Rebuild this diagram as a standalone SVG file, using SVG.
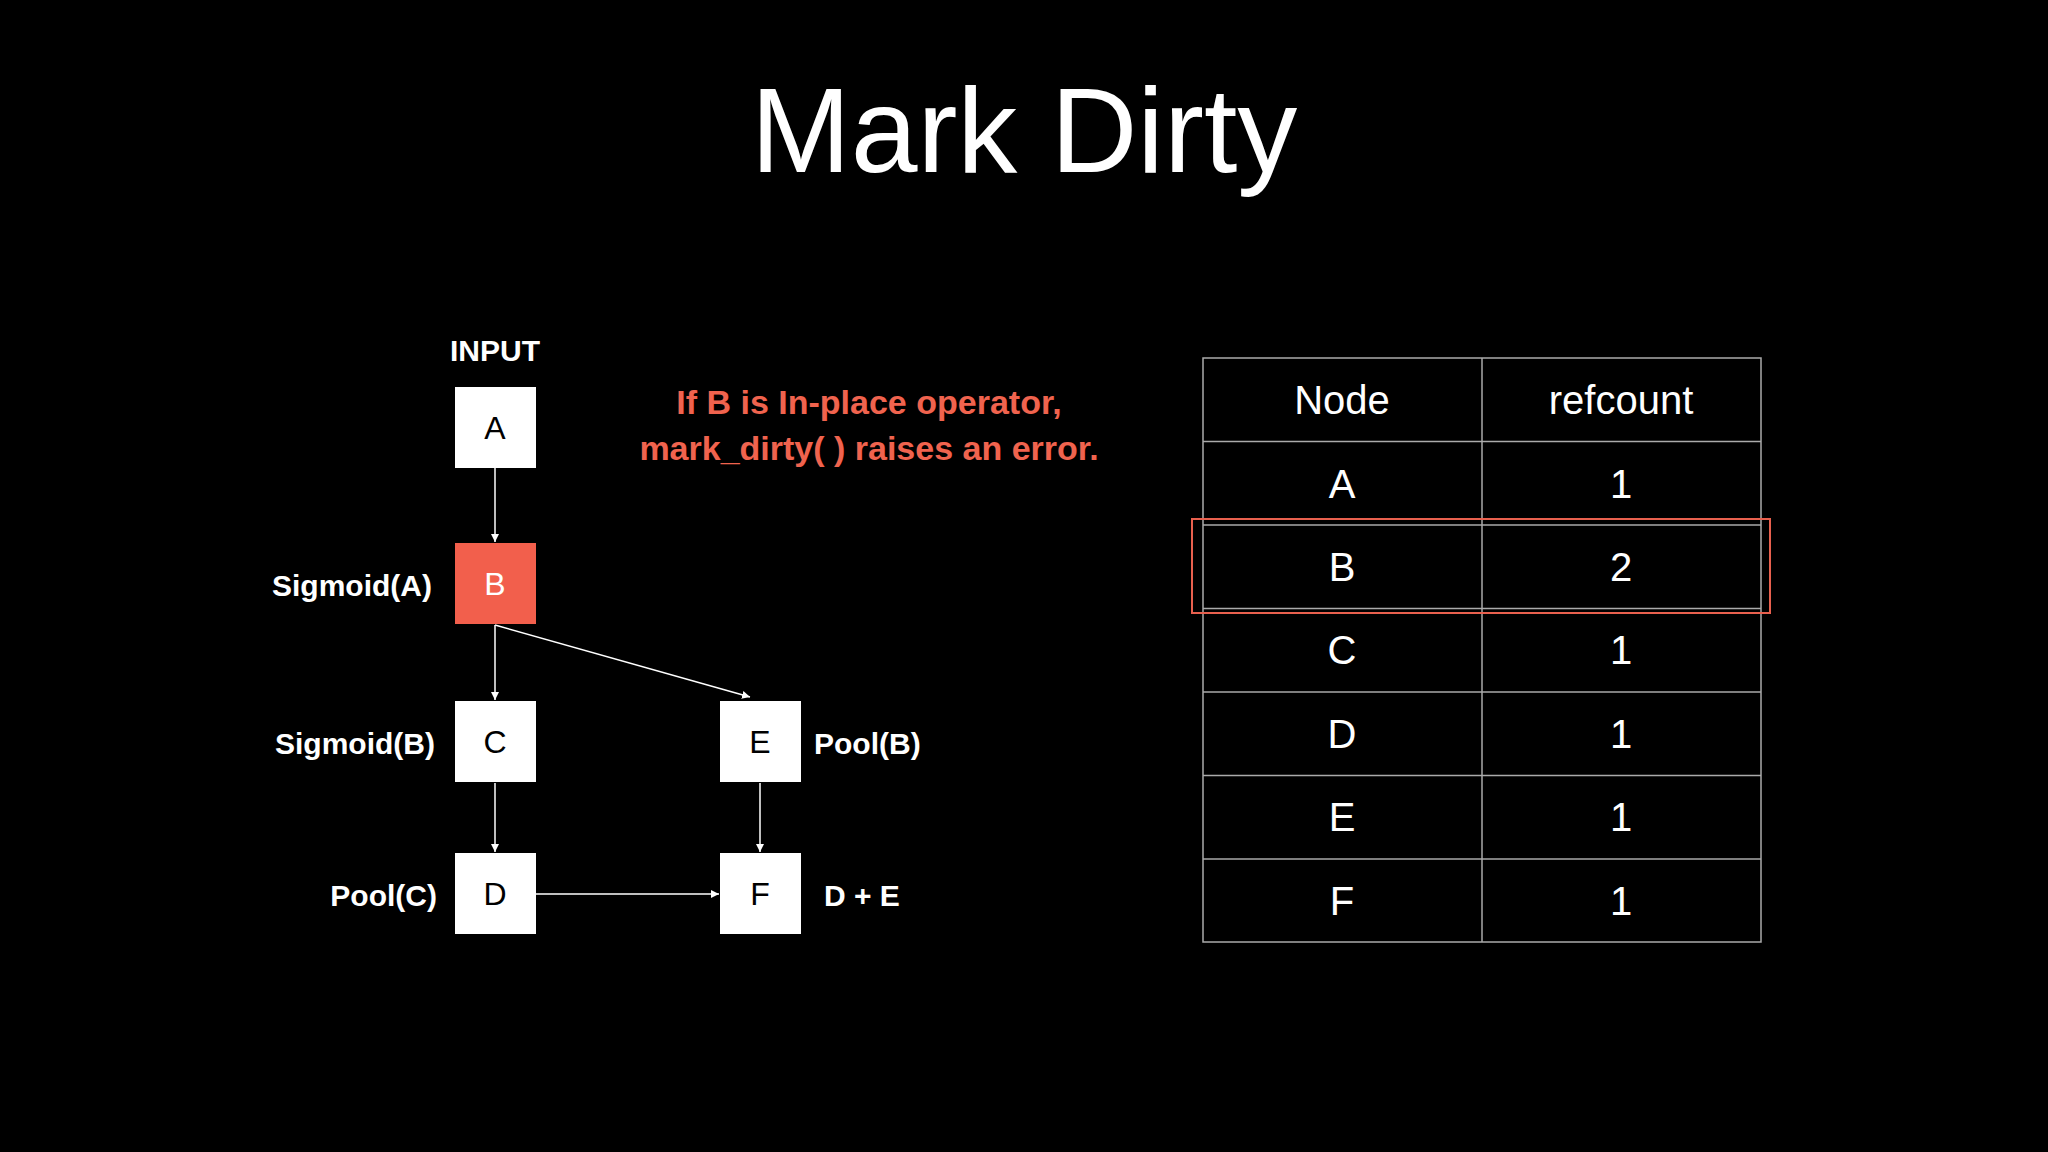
<svg xmlns="http://www.w3.org/2000/svg" width="2048" height="1152" viewBox="0 0 2048 1152">
<defs>
<style>
.t{font-family:"Liberation Sans",Arial,sans-serif}
.nb{fill:#fff}
.nl{font-family:"Liberation Sans",Arial,sans-serif;font-size:32px;fill:#000;text-anchor:middle;dominant-baseline:central}
.lb{font-family:"Liberation Sans",Arial,sans-serif;font-size:30px;font-weight:bold;fill:#fff;dominant-baseline:central}
.tc{font-family:"Liberation Sans",Arial,sans-serif;font-size:40px;fill:#fff;text-anchor:middle;dominant-baseline:central}
.ln{stroke:#aaa;stroke-width:1.5;fill:none}
.cn{stroke:#fff;stroke-width:1.5;fill:none;marker-end:url(#ah)}
</style>
<marker id="ah" viewBox="0 0 10 10" refX="10" refY="5" markerWidth="8" markerHeight="8" orient="auto" markerUnits="userSpaceOnUse"><path d="M0,0L10,5L0,10z" fill="#fff"/></marker>
</defs>
<rect width="2048" height="1152" fill="#000"/>
<text class="t" x="1024" y="172" font-size="120" fill="#fff" text-anchor="middle">Mark Dirty</text>
<text class="t" x="495" y="361" font-size="30" font-weight="bold" fill="#fff" text-anchor="middle">INPUT</text>
<g class="t" font-size="34" font-weight="bold" fill="#f0634e" text-anchor="middle">
<text x="869" y="414">If B is In-place operator,</text>
<text x="869" y="460">mark_dirty( ) raises an error.</text>
</g>
<g id="connectors">
<line class="cn" x1="495" y1="468" x2="495" y2="542"/>
<line class="cn" x1="495" y1="625" x2="495" y2="700"/>
<line class="cn" x1="495" y1="625" x2="750" y2="697"/>
<line class="cn" x1="495" y1="783" x2="495" y2="852"/>
<line class="cn" x1="760" y1="783" x2="760" y2="852"/>
<line class="cn" x1="536" y1="894" x2="719" y2="894"/>
</g>
<g id="nA"><rect class="nb" x="455" y="387" width="81" height="81"/><text class="nl" x="495" y="428">A</text></g>
<g id="nB"><rect x="455" y="543" width="81" height="81" fill="#f25f4c"/><text class="nl" x="495" y="584" fill="#fff" style="fill:#fff">B</text><text class="lb" x="432" y="585" text-anchor="end">Sigmoid(A)</text></g>
<g id="nC"><rect class="nb" x="455" y="701" width="81" height="81"/><text class="nl" x="495" y="742">C</text><text class="lb" x="435" y="743" text-anchor="end">Sigmoid(B)</text></g>
<g id="nE"><rect class="nb" x="720" y="701" width="81" height="81"/><text class="nl" x="760" y="742">E</text><text class="lb" x="814" y="743">Pool(B)</text></g>
<g id="nD"><rect class="nb" x="455" y="853" width="81" height="81"/><text class="nl" x="495" y="894">D</text><text class="lb" x="437" y="895" text-anchor="end">Pool(C)</text></g>
<g id="nF"><rect class="nb" x="720" y="853" width="81" height="81"/><text class="nl" x="760" y="894">F</text><text class="lb" x="824" y="895">D + E</text></g>
<g id="table">
<rect class="ln" x="1203" y="358" width="558" height="584"/>
<line class="ln" x1="1482" y1="358" x2="1482" y2="942"/>
<line class="ln" x1="1203" y1="441.5" x2="1761" y2="441.5"/>
<line class="ln" x1="1203" y1="525" x2="1761" y2="525"/>
<line class="ln" x1="1203" y1="608.5" x2="1761" y2="608.5"/>
<line class="ln" x1="1203" y1="692" x2="1761" y2="692"/>
<line class="ln" x1="1203" y1="775.5" x2="1761" y2="775.5"/>
<line class="ln" x1="1203" y1="859" x2="1761" y2="859"/>
<text class="tc" x="1342" y="400">Node</text><text class="tc" x="1621" y="400">refcount</text>
<text class="tc" x="1342" y="484">A</text><text class="tc" x="1621" y="484">1</text>
<text class="tc" x="1342" y="567">B</text><text class="tc" x="1621" y="567">2</text>
<text class="tc" x="1342" y="650">C</text><text class="tc" x="1621" y="650">1</text>
<text class="tc" x="1342" y="734">D</text><text class="tc" x="1621" y="734">1</text>
<text class="tc" x="1342" y="817">E</text><text class="tc" x="1621" y="817">1</text>
<text class="tc" x="1342" y="901">F</text><text class="tc" x="1621" y="901">1</text>
<rect x="1192" y="519" width="578" height="94" fill="none" stroke="#e8604e" stroke-width="2"/>
</g>
</svg>
